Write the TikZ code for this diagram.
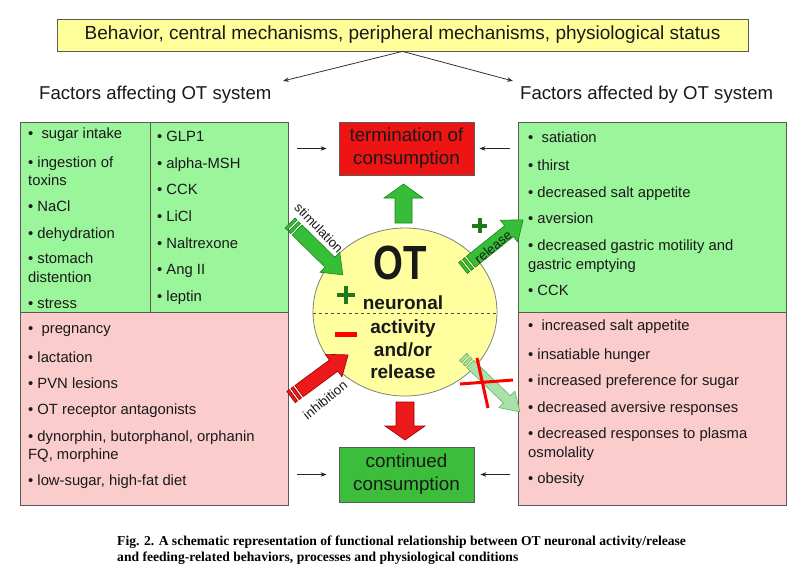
\documentclass[tikz,border=0pt]{standalone}
\usepackage{fontspec}
\setmainfont{Liberation Sans}
\newfontfamily\capfont{Liberation Serif}
\usetikzlibrary{arrows.meta}

\definecolor{topyellow}{RGB}{255,255,153}
\definecolor{lgreen}{RGB}{155,245,155}
\definecolor{lpink}{RGB}{250,204,204}
\definecolor{boxline}{RGB}{90,90,90}
\definecolor{termred}{RGB}{238,20,20}
\definecolor{contgreen}{RGB}{60,190,60}
\definecolor{arrgreen}{RGB}{55,190,55}
\definecolor{arrgreenline}{RGB}{30,130,30}
\definecolor{arrred}{RGB}{235,25,25}
\definecolor{arrredline}{RGB}{160,0,0}
\definecolor{palegreen}{RGB}{170,225,170}
\definecolor{palegreenline}{RGB}{100,180,100}
\definecolor{circyellow}{RGB}{255,255,160}
\definecolor{plusgreen}{RGB}{30,120,30}
\definecolor{txt}{RGB}{25,25,25}

\tikzset{
  item/.style={anchor=base west, inner sep=0pt, font=\fontsize{14.8}{17}\selectfont, text=txt},
  titletext/.style={anchor=base west, inner sep=0pt, font=\fontsize{18.6}{22}\selectfont, text=txt},
  listbox/.style={draw=boxline, line width=0.8pt, anchor=north west, inner sep=0pt, minimum width=268pt},
  centerbox/.style={draw=boxline, line width=0.8pt, inner sep=0pt, minimum width=135pt, align=center,
     font=\fontsize{18.8}{23}\selectfont, text=txt},
  otword/.style={anchor=base, inner sep=0pt, font=\bfseries\fontsize{19}{22}\selectfont, text=txt},
  arrlabel/.style={inner sep=0pt, font=\fontsize{13.2}{15}\selectfont, text=txt},
  thinarr/.style={draw=black!80, line width=0.8pt, -{Stealth[length=6pt,width=4.5pt]}},
  smallarr/.style={draw=black!85, line width=0.8pt, -{Stealth[length=6pt,width=4.5pt]}},
  capline/.style={anchor=base west, inner sep=0pt, font=\capfont\bfseries\fontsize{13.6}{16}\selectfont}
}

% striped block arrow: #1,#2 start; #3 angle; #4 length; #5 shaft half width; #6 head half width; #7 fill; #8 line
\newcommand\stripearrow[8]{%
  \begin{scope}[shift={(#1,#2)}, rotate=#3]
    \filldraw[fill=#7, draw=#8, line width=0.6pt] (0,-#5) rectangle (3,#5);
    \filldraw[fill=#7, draw=#8, line width=0.6pt] (5,-#5) rectangle (8,#5);
    \filldraw[fill=#7, draw=#8, line width=0.6pt]
      (10,-#5) -- ({#4-18},-#5) -- ({#4-18},-#6) -- (#4,0) -- ({#4-18},#6) -- ({#4-18},#5) -- (10,#5) -- cycle;
  \end{scope}}

\begin{document}
\begin{tikzpicture}[x=1pt,y=-1pt]
\useasboundingbox (0,0) rectangle (800,570);
\fill[white] (0,0) rectangle (800,570);

% ---------- top box and titles ----------
\node[draw=boxline, line width=0.8pt, fill=topyellow, minimum width=691pt, minimum height=32pt,
      inner sep=0pt, font=\fontsize{19}{22}\selectfont, text=txt] (top) at (402.5,35)
      {Behavior, central mechanisms, peripheral mechanisms, physiological status};
\node[titletext] (lt) at (39,99) {Factors affecting OT system};
\node[titletext] (rt) at (520,99) {Factors affected by OT system};
\coordinate (ltip) at (283,81);
\coordinate (rtip) at (513,81);
\draw[thinarr] (top.south) -- (ltip);
\draw[thinarr] (top.south) -- (rtip);

% ---------- left boxes ----------
\node[listbox, fill=lgreen, minimum height=190pt] (lg) at (20,122) {};
\node[listbox, fill=lpink, minimum height=193pt] (lp) at (20,312) {};
\draw[boxline, line width=0.8pt] ([xshift=130pt]lg.north west) -- ([xshift=130pt]lg.south west);

\node[item] (l1) at (28,138) {•\ \ sugar intake};
\node[item] (l2) at (28,167) {• ingestion of};
\node[item] (l2b) at (28,185) {toxins};
\node[item] (l3) at (28,211) {• NaCl};
\node[item] (l4) at (28,238) {• dehydration};
\node[item] (l5) at (28,263) {• stomach};
\node[item] (l5b) at (28,282) {distention};
\node[item] (l6) at (28,308) {• stress};

\node[item] (m1) at (157,141) {• GLP1};
\node[item] (m2) at (157,168) {• alpha-MSH};
\node[item] (m3) at (157,194) {• CCK};
\node[item] (m4) at (157,221) {• LiCl};
\node[item] (m5) at (157,248) {• Naltrexone};
\node[item] (m6) at (157,274) {• Ang II};
\node[item] (m7) at (157,301) {• leptin};

\node[item] (p1) at (28,333) {•\ \ pregnancy};
\node[item] (p2) at (28,362) {• lactation};
\node[item] (p3) at (28,388) {• PVN lesions};
\node[item] (p4) at (28,414) {• OT receptor antagonists};
\node[item] (p5) at (28,441) {• dynorphin, butorphanol, orphanin};
\node[item] (p5b) at (28,459) {FQ, morphine};
\node[item] (p6) at (28,485) {• low-sugar, high-fat diet};

% ---------- right boxes ----------
\node[listbox, fill=lgreen, minimum height=190pt] (rg) at (518,122) {};
\node[listbox, fill=lpink, minimum height=193pt] (rp) at (518,312) {};

\node[item] (r1) at (528,142) {•\ \ satiation};
\node[item] (r2) at (528,170) {• thirst};
\node[item] (r3) at (528,197) {• decreased salt appetite};
\node[item] (r4) at (528,223) {• aversion};
\node[item] (r5) at (528,250) {• decreased gastric motility and};
\node[item] (r5b) at (528,269) {gastric emptying};
\node[item] (r6) at (528,295) {• CCK};

\node[item] (s1) at (528,330) {•\ \ increased salt appetite};
\node[item] (s2) at (528,359) {• insatiable hunger};
\node[item] (s3) at (528,385) {• increased preference for sugar};
\node[item] (s4) at (528,412) {• decreased aversive responses};
\node[item] (s5) at (528,438) {• decreased responses to plasma};
\node[item] (s5b) at (528,457) {osmolality};
\node[item] (s6) at (528,483) {• obesity};

% ---------- center boxes ----------
\node[centerbox, fill=termred, minimum height=53pt] (term) at (406.5,148.5) {termination of\\consumption};
\node[centerbox, fill=contgreen, minimum height=55pt] (cont) at (406.5,474.5) {continued\\consumption};

\draw[smallarr] ([xshift=8pt]lg.east |- term.west) -- ([xshift=-12pt]term.west);
\draw[smallarr] ([xshift=-8pt]rg.west |- term.east) -- ([xshift=5pt]term.east);
\draw[smallarr] ([xshift=8pt]lp.east |- cont.west) -- ([xshift=-12pt]cont.west);
\draw[smallarr] ([xshift=-8pt]rp.west |- cont.east) -- ([xshift=6pt]cont.east);

% up and down block arrows
\filldraw[fill=arrgreen, draw=arrgreenline, line width=0.6pt]
  (395,223) -- (395,198) -- (384,198) -- (403.5,184) -- (423,198) -- (412,198) -- (412,223) -- cycle;
\filldraw[fill=arrred, draw=arrredline, line width=0.6pt]
  (396,402) -- (396,426) -- (385,426) -- (405,440) -- (425,426) -- (414,426) -- (414,402) -- cycle;

% ---------- circle ----------
\filldraw[fill=circyellow, draw=black!50, line width=0.8pt] (405,312) ellipse [x radius=92, y radius=84];
\draw[dashed, black!70, line width=0.8pt] (313,313) -- (497,313);

\node[inner sep=0pt, font=\bfseries\fontsize{48}{48}\selectfont, text=txt] (ot) at (400.5,262.5) {\scalebox{0.8}[1]{OT}};
\node[otword] (w1) at (403,309) {neuronal};
\node[otword] (w2) at (403,333) {activity};
\node[otword] (w3) at (403,356) {and/or};
\node[otword] (w4) at (403,378) {release};

\draw[plusgreen, line width=4.5pt] (337,295) -- (355,295) (346,286) -- (346,304);
\draw[plusgreen, line width=4pt] (472,225.5) -- (487,225.5) (479.5,218) -- (479.5,233);
\draw[red, line width=5pt] (335,334) -- (357,334);

% ---------- striped arrows ----------
\stripearrow{290}{223}{-44.5}{74}{7}{14}{arrgreen}{arrgreenline}
\stripearrow{463}{268}{38.7}{77}{7}{14}{arrgreen}{arrgreenline}
\stripearrow{291}{397}{36.4}{71}{7}{14}{arrred}{arrredline}
\stripearrow{463}{357}{-44}{79}{5}{11.5}{palegreen}{palegreenline}

\node[arrlabel, rotate=-46] (stimlab) at (319,228) {stimulation};
\node[arrlabel, rotate=39] (rellab) at (493,247) {release};
\node[arrlabel, rotate=39] (inhlab) at (325,400) {inhibition};

% red cross
\draw[red, line width=3pt] (460,384) -- (513,380) (477,358) -- (488,408);

% ---------- caption ----------
\node[capline] (cap1) at (117,545) {Fig. 2. A schematic representation of functional relationship between OT neuronal activity/release};
\node[capline] (cap2) at (117,561) {and feeding-related behaviors, processes and physiological conditions};
\end{tikzpicture}
\end{document}
